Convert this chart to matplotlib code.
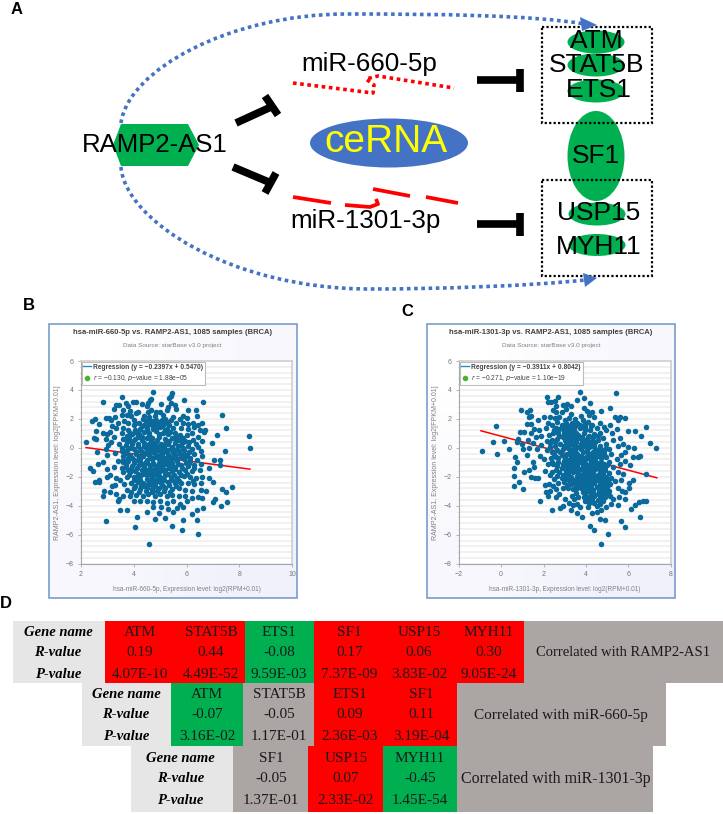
import numpy as np
import matplotlib
matplotlib.use("Agg")
import matplotlib.pyplot as plt
from matplotlib.patches import Ellipse, Polygon, Rectangle, PathPatch
from matplotlib.path import Path
from matplotlib.lines import Line2D

W, H = 723, 814

# panel B scatter (miR-660-5p, RAMP2-AS1)
b_points = [
(2.2,.42),(2.83,3.14),(2.95,-5.04),(4.05,-5.47),(4.6,-6.65),(5.44,-5.4),(5.83,-5.68),(6.43,-5.96),(5.88,-5),(6.38,-4.95),
(8.37,.8),(8.39,0),(7.36,2.3),(7.48,1.37),(7.16,.86),(6.96,.35),(7.44,-.2),(7.04,-.84),(7.28,-.84),(7.28,-1.19),
(6.85,-1.37),(7.72,-2.69),(7.5,-3.03),(7.34,-2.83),(7,-2.34),(6.84,-2.06),(7.52,-3.72),(7.31,-4),(7.08,-3.54),(7.01,-3.77),
(6.61,-4.18),(6.38,-4.3),(6.2,-4.57),(6.62,3.19),(5.9,3.28),(4.72,3.86),(5.45,3.77),(3.57,3.49),
(2.37,-1.37),(2.45,-1.58),(2.55,-2.39),(2.7,-2.23),(2.7,-2.39),(2.89,-2.96),(2.86,-3.33),(3.1,-3.03),(3.49,-4.3),(3.74,-4.3),
(4.14,-4.78),(4.52,-4.42),(4.8,-4.92),(4.97,-4.5),(5.2,-4.83),(5.5,-4.4),(5.88,-4.07),(2.43,1.85),(2.55,1.97),(2.7,1.67),
(2.58,1.18),(2.5,.65),(2.58,.6),(2.96,2.04),(3.08,2.04),(3.26,2.68),(3.33,2.96),(2.6,-.3),(2.65,-1.1),(2.85,-1),(3,-.5),(2.95,-.1),
(2.85,1),(3,.95),(3.1,1.1),(2.95,.6),(3.15,.4),(3.05,.2),(3.25,.75),(3.2,1.5),(3.35,1.35),(3.4,1.75),(3.3,2.1),(3.15,1.95),
(3.0,-1.45),(3.1,-1.85),(2.98,-2),(3.2,-2.6),(3.3,-2.55),(3.35,-2.05),(3.25,-1.3),(3.4,-.9),(3.3,-.35),(3.35,-3.2),(3.45,-3.5),(3.4,-3.7),
(3.98,3.2),(4.1,3.2),(4.3,3.05),(4.55,3.1),(4.62,3.3),(4.66,3.4),(5.05,3),(5.35,3.45),(5.4,3.6),(5.42,3.1),(5.55,2.95),(5.3,2.85),
(4.5,2.9),(3.45,2.95),(3.7,3.1),(3.78,2.9),(3.85,2.55),(3.6,2.6),(3.75,2.3),(3.55,2.25),(3.9,2.2),(4.1,2.4),(4.15,2.5),(4.55,2.5),
(4.65,2.6),(4.85,2.5),(5,2.45),(5.1,2.3),(5.25,2.6),(5.6,2.7),(6.05,2.6),(6.35,2.65),(6.4,2.2),(5.85,2.2),(6,2.05),(5.75,2),(5.5,2.15),
(4.4,2.2),(4.35,2),(4.6,2.1),(4.8,2.2),(5.2,2),(5.4,1.9),(4,1.95),(3.65,1.85),(3.8,1.7),(4,1.55),(4.2,1.7),(4.45,1.75),(4.7,1.85),
(4.95,1.8),(5.15,1.65),(5.35,1.6),(5.6,1.7),(5.85,1.75),(6.05,1.65),(6.25,1.7),(6.45,1.6),(6.6,1.7),(6.3,1.45),(6.05,1.3),(5.8,1.4),
(5.5,1.35),(5.25,1.3),(5,1.45),(4.75,1.5),(4.5,1.4),(4.25,1.3),(4.05,1.2),(3.8,1.25),(3.6,1.4),(3.55,1),(3.75,.85),(3.95,.95),(4.2,.95),
(4.4,1.1),(4.6,1),(4.85,1.15),(5.1,1),(5.3,.95),(5.55,1.05),(5.75,.9),(6,.9),(6.2,1),(6.5,1.25),(6.7,1.25),(6.65,1.1),(6.45,.75),(6.25,.55),
(5.95,.5),(5.7,.55),(5.45,.7),(5.2,.6),(4.95,.75),(4.7,.65),(4.5,.7),(4.3,.55),(4.05,.6),(3.85,.5),(3.6,.6),(3.45,.25),(3.7,.2),(3.95,.25),
(4.15,.3),(4.4,.35),(4.6,.3),(4.85,.4),(5.05,.3),(5.3,.25),(5.55,.35),(5.8,.2),(6.05,.15),(6.35,.3),(6.6,.45),(6.45,.05),(6.2,-.1),(5.9,-.15),
(5.65,-.05),(5.4,-.1),(5.15,-.05),(4.9,.05),(4.7,-.1),(4.45,0),(4.25,-.05),(4,-.1),(3.75,-.15),(3.55,-.2),(3.6,-.55),(3.85,-.5),(4.1,-.45),
(4.35,-.35),(4.55,-.45),(4.8,-.35),(5.05,-.45),(5.3,-.4),(5.55,-.5),(5.75,-.4),(6,-.55),(6.3,-.45),(6.55,-.2),(6.6,-.55),(6.4,-.85),(6.15,-.9),
(5.9,-.8),(5.65,-.9),(5.4,-.8),(5.2,-.85),(4.95,-.75),(4.7,-.8),(4.5,-.85),(4.25,-.75),(4,-.85),(3.8,-.9),(3.6,-1),(3.7,-1.3),(3.95,-1.25),
(4.2,-1.15),(4.4,-1.2),(4.65,-1.15),(4.85,-1.25),(5.1,-1.2),(5.3,-1.15),(5.55,-1.3),(5.8,-1.2),(6.05,-1.25),(6.3,-1.15),(6.55,-1.1),(6.5,-1.5),
(6.2,-1.6),(5.95,-1.55),(5.7,-1.65),(5.45,-1.6),(5.2,-1.5),(5,-1.6),(4.75,-1.55),(4.55,-1.5),(4.3,-1.55),(4.05,-1.6),(3.85,-1.65),(3.6,-1.7),
(3.5,-2.2),(3.75,-2),(4,-2),(4.25,-1.95),(4.5,-1.9),(4.7,-2),(4.95,-1.95),(5.2,-1.9),(5.4,-2),(5.65,-2.05),(5.9,-1.95),(6.15,-2),(6.35,-2.1),(6.6,-2),
(6.55,-2.45),(6.3,-2.5),(6.05,-2.4),(5.8,-2.45),(5.55,-2.4),(5.3,-2.35),(5.05,-2.4),(4.85,-2.35),(4.6,-2.3),(4.35,-2.4),(4.15,-2.35),(3.9,-2.45),(3.65,-2.5),
(3.75,-2.9),(4,-2.8),(4.25,-2.85),(4.5,-2.75),(4.7,-2.85),(4.95,-2.8),(5.2,-2.75),(5.45,-2.85),(5.7,-2.8),(5.95,-2.9),(6.2,-2.95),(6.55,-2.9),(6.75,-2.95),
(6.45,-3.4),(6.2,-3.45),(5.95,-3.3),(5.7,-3.3),(5.45,-3.25),(5.25,-3.3),(5,-3.2),(4.8,-3.3),(4.55,-3.2),(4.35,-3.3),(4.1,-3.25),(3.85,-3.35),(3.6,-3.3),
(4,-3.65),(4.25,-3.7),(4.5,-3.65),(4.75,-3.75),(5,-3.7),(5.25,-3.8),(5.5,-3.7),(5.75,-3.85),(6,-3.7),(6.6,-3.45),(4.75,-4.1),(5.05,-4.1),(5.3,-4.2),(5.65,-4.15),
(4.6,.9),(4.9,.55),(5.15,.15),(4.55,-.15),(4.8,-.6),(5.1,-1),(4.6,-1.75),(5,-2.15),(4.4,-2.6),(5.2,-1.7),(4.3,1.5),(4.85,1.3),(4.65,.45),(5.35,.45),(4.2,-.6),
(4.45,-1),(4.35,-1.8),(5.3,-.65),(5.45,-1.4),(5.6,-2.2),(4.9,-3),(4.7,-2.55),(4.15,-2.1),(4.75,.15),(5,-.2),(5.2,-.25),(5.4,-.6),(4.95,-1.4),(4.8,-1.8),(5.6,.55),
# dense middle of the cloud
(4.12,1.05),(4.33,.78),(4.52,1.22),(4.72,1.28),(4.96,.95),(5.17,1.2),(5.38,1.12),(5.62,.82),(5.85,.68),(4.18,.12),(4.38,.15),(4.57,.08),(4.78,.28),(4.98,.12),(5.23,.42),
(5.44,.08),(5.68,.16),(5.87,-.02),(4.08,-.28),(4.28,-.22),(4.49,-.22),(4.68,-.31),(4.9,-.18),(5.1,-.3),(5.28,-.12),(5.5,-.28),(5.72,-.2),(3.95,-.68),(4.15,-.82),(4.36,-.58),
(4.62,-.62),(4.88,-.55),(5.1,-.62),(5.33,-1),(5.52,-.72),(5.78,-.62),(5.97,-1.02),(4.02,-1.05),(4.28,-1.02),(4.52,-1.05),(4.75,-1.02),(4.95,-1.05),(5.2,-1.05),(5.45,-1.02),
(5.68,-1.12),(3.9,-1.45),(4.12,-1.42),(4.38,-1.42),(4.62,-1.35),(4.85,-1.48),(5.08,-1.4),(5.32,-1.42),(5.58,-1.48),(5.82,-1.42),(3.82,-1.85),(4.15,-1.8),(4.48,-1.7),(4.72,-1.75),
(4.92,-1.78),(5.12,-2.05),(5.3,-1.82),(5.52,-1.85),(5.78,-1.85),(4,-2.25),(4.25,-2.22),(4.5,-2.15),(4.72,-2.2),(4.9,-2.15),(5.15,-2.22),(5.42,-2.2),(5.72,-2.28),(4.05,-2.62),
(4.28,-2.6),(4.55,-2.5),(4.82,-2.62),(5.1,-2.6),(5.32,-2.55),(5.62,-2.62),(4.2,-3.02),(4.45,-3),(4.68,-3.08),(5.15,-3),(5.38,-3.05),(3.92,-3.08),(4.05,1.75),(4.55,1.95),(4.85,1.9),
(5.08,1.95),(5.3,1.82),(4.4,1.55),(4.62,1.62),(4.85,1.62),(5.08,1.48),(3.85,1.05),(4.15,.72),(3.82,.72),(3.98,.45),(3.75,.45),(3.88,-.02),(3.72,-.38),(3.8,-.72),(3.72,-1.08),(3.78,-1.52),
(3.6,-.85),(3.55,-1.42),(3.58,.02),(5.6,-.72),(5.92,-.42),(5.58,-.22),(6.1,-.3),(6.12,-.72),(5.88,.38),(6.1,.4),(6.08,-1.02),(6.28,-1.38),(6,-1.78),(6.25,-2.3),
]

# panel C scatter (miR-1301-3p, RAMP2-AS1)
c_points = [
(-.92,-.22),(-.21,-.43),(-.36,.4),(-.24,1.5),(.12,.5),(.37,-.08),(.66,-.64),(.77,-.96),(.6,-1.42),(.6,-1.95),(.6,-2.66),(.83,-2.39),(1.03,-2.85),
(.94,2.64),(1.2,2.45),(1.35,2.61),(1.4,2.22),(1.33,2.1),(1.22,1.62),(1.4,1.62),(.9,1.12),(1.08,1.07),(.81,.6),(.74,.38),(1.85,-3.65),
(3.72,3.86),(5.4,3.77),(2.18,3.49),(2.67,3.53),(3.9,3.42),(3.6,3.28),(4.2,3.1),(4.72,2.54),(5.14,2.77),(5.37,2.15),(5.85,2.04),(6.85,1.42),
(6,1.16),(6.32,1.14),(7.03,.35),(7.29,-.04),(6.6,.84),(6.27,-.04),(6.24,-.6),(6.47,-.66),(6.55,-.57),(6.1,-1.19),(6.82,-1.81),(6.24,-2.23),
(6.02,-2.46),(6.05,-2.75),(5.85,-3.03),(5.85,-3.56),(6.71,-3.65),(6.82,-3.65),(6.52,-3.72),(6.33,-3.95),(6.11,-4.25),(6.57,-4.8),(5.67,-5.04),
(5.85,-5.45),(5.06,-5.96),(4.73,-6.65),(4.38,-5.68),(4.18,-5.38),(4.67,-4.92),(4.9,-5),(2.39,-4.3),(2.8,-4.18),(3.28,-4.3),(3.57,-4.53),(3.8,-4.78),
(2.94,-4),(2.58,-3.38),(2.1,-3.03),(1.1,-1.7),(1.3,-1.55),(1.4,-2),(1.55,-1.3),(1.6,-2.1),(1.75,-2.1),(1.5,-.95),(1.2,-.5),(1.05,-.1),(1.3,0),
(1,.3),(1.25,.55),(1.5,.35),(1.65,.75),(1.4,1),(1.55,1.3),(1.8,1.2),(1.75,1.95),(2,2.1),(2.2,1.75),(2.1,1.4),(1.9,.85),(1.9,.2),(1.7,-.1),(1.85,-.55),
(2,-.8),(2.05,-1.6),(2.05,-2.55),(2.25,-2.5),(2.3,-2.95),(2.45,-2.6),(2.2,-3.3),(2.75,-3.2),(3,-3.5),(3.2,-3.8),(3.45,-3.55),(3.7,-4.1),(3.95,-3.7),
(4.1,-4.1),(4.3,-4.5),(4.5,-4.45),(4.7,-4.3),(4.95,-4.1),(5.2,-3.9),(5.5,-3.95),(5.55,-3.4),(5.3,-3.5),(5.7,-2.95),(5.5,-2.75),(5.35,-2.3),(5.65,-2.2),(5.75,-1.8),
(5.5,-1.7),(5.3,-1.3),(5.6,-1.1),(5.85,-.9),(5.65,-.5),(5.45,-.75),(5.85,-.3),(6,.05),(5.75,.3),(5.5,.15),(5.3,.55),(5.6,.7),(5.25,1),(5.45,1.3),(5.15,1.6),
(4.85,1.45),(4.65,1.75),(4.95,1.2),(5.5,1.95),(5.6,2.1),(4.4,2.1),(4.05,2.55),(3.9,2.75),(4.15,2.3),(4.3,2.45),(3.75,2.2),(3.5,2),(3.3,2.35),(3.05,2.7),(2.9,2.95),
(2.6,2.9),(2.35,3.2),(2.55,3.25),(2.2,3.2),(3.1,3.05),(3.3,2.9),(2.85,2.45),(2.6,2.5),(2.45,2.6),(2.3,2.15),(2.55,2.05),(2.75,2.15),(3,1.95),(3.2,2.05),(2.65,1.8),
(2.4,1.55),(2.6,1.4),(2.85,1.6),(3.1,1.55),(3.35,1.7),(3.6,1.75),(3.85,1.9),(4.1,1.8),(4.3,1.6),(4.5,1.4),(4.2,1.25),(3.95,1.45),(3.7,1.35),(3.45,1.2),(3.2,1.2),(2.95,1.15),
(2.7,1.05),(2.45,1),(2.25,.9),(2.15,.45),(2.4,.55),(2.65,.6),(2.9,.75),(3.15,.8),(3.4,.75),(3.65,.9),(3.9,1),(4.15,.85),(4.4,.95),(4.65,1),(4.8,.7),(4.55,.55),(4.3,.5),
(4.05,.55),(3.8,.5),(3.55,.4),(3.3,.35),(3.05,.4),(2.8,.25),(2.55,.15),(2.3,.05),(2.15,-.15),(2.4,-.3),(2.65,-.15),(2.9,-.05),(3.15,0),(3.4,-.05),(3.65,.05),(3.9,.1),(4.15,.05),
(4.4,.15),(4.65,.15),(4.95,.3),(5.1,-.05),(4.85,-.2),(4.6,-.25),(4.35,-.3),(4.1,-.35),(3.85,-.3),(3.6,-.4),(3.35,-.45),(3.1,-.4),(2.85,-.5),(2.6,-.6),(2.35,-.7),(2.2,-1.1),(2.45,-1.1),
(2.7,-1),(2.95,-.9),(3.2,-.85),(3.45,-.8),(3.7,-.75),(3.95,-.8),(4.2,-.75),(4.45,-.7),(4.7,-.7),(4.95,-.6),(5.2,-.45),(5.1,-.95),(4.85,-1.1),(4.6,-1.15),(4.35,-1.15),(4.1,-1.2),
(3.85,-1.2),(3.6,-1.25),(3.35,-1.3),(3.1,-1.35),(2.85,-1.4),(2.6,-1.5),(2.4,-1.7),(2.65,-1.95),(2.9,-1.85),(3.15,-1.8),(3.4,-1.7),(3.65,-1.7),(3.9,-1.65),(4.15,-1.6),(4.4,-1.55),
(4.65,-1.6),(4.9,-1.55),(5.1,-1.75),(4.95,-2),(4.7,-2.05),(4.45,-2),(4.2,-2.05),(3.95,-2.1),(3.7,-2.15),(3.45,-2.2),(3.2,-2.25),(2.95,-2.35),(2.7,-2.4),(2.6,-2.85),(2.9,-2.8),(3.15,-2.75),
(3.4,-2.85),(3.65,-2.6),(3.9,-2.55),(4.15,-2.5),(4.4,-2.45),(4.65,-2.5),(4.9,-2.45),(5.15,-2.5),(5.1,-2.95),(4.85,-2.9),(4.6,-2.95),(4.35,-2.9),(4.1,-3),(3.85,-3.05),(3.35,-3.3),(3.65,-3.4),
(3.9,-3.4),(4.15,-3.4),(4.4,-3.35),(4.65,-3.35),(4.9,-3.4),(5.15,-3.35),(4.15,-3.8),(4.4,-3.8),(4.65,-3.85),(4.5,-4),(4.8,-3.7),(3.6,-3.85),(3.4,-3.95),(3.75,-.1),(3.5,-.15),(4,-.6),
(4.25,-.9),(3.3,-1.05),(3.55,-1.5),(3.05,-1.6),(4.3,-1.35),(4.55,-1.85),(4.05,-1.9),(4.75,-2.3),(4.25,-2.25),(3.75,-2.4),(3.5,-2.5),(4.55,-.45),(3.25,.55),(3.55,1),(4,.3),(4.45,.4),(3.7,.65),
(4.2,.3),(3.45,.2),(4.75,-.45),(4.5,-1.4),(3.85,-1.45),(3.6,-1),(5.2,-2.1),(4.8,-3.15),(4.35,-3.15),(3.1,-2.55),(2.75,-1.7),(3.95,1.2),(3.2,1.45),(2.95,1.4),
# dense middle of the cloud
(3.48,1.48),(3.72,1.58),(3.98,1.68),(4.22,1.52),(3.3,1),(3.55,.62),(3.8,.78),(4.08,.72),(4.32,.72),(4.55,.8),(3,.55),(3.2,.2),(3.5,.55),(3.75,.3),(3.98,.55),(4.22,.1),(4.42,-.05),(4.65,-.02),
(2.98,.15),(3.25,-.18),(3.52,-.32),(3.78,-.55),(4.05,-.15),(4.28,-.52),(4.5,-.2),(4.75,-.12),(4.95,.02),(3,-.68),(3.28,-.62),(3.55,-.62),(3.85,-.82),(4.12,-.6),(4.38,-.55),(4.62,-.55),(4.85,-.42),
(3.15,-1.08),(3.42,-1.05),(3.72,-1),(3.98,-1.02),(4.22,-1.02),(4.48,-.95),(4.72,-.95),(4.98,-1.18),(3.25,-1.55),(3.48,-1.48),(3.75,-1.48),(4,-1.42),(4.22,-1.35),(4.45,-1.2),(4.7,-1.38),(4.92,-1.35),
(3.32,-1.98),(3.58,-1.92),(3.82,-1.88),(4.1,-1.78),(4.32,-1.8),(4.62,-1.85),(4.8,-1.8),(3.05,-2.1),(3.3,-2.5),(3.58,-2.32),(3.82,-2.28),(4.02,-2.32),(4.38,-2.25),(4.58,-2.22),(4.88,-2.2),(5.02,-2.3),
(3.55,-2.82),(3.78,-2.8),(4.02,-2.78),(4.25,-2.68),(4.5,-2.7),(4.75,-2.72),(5,-2.7),(3.55,-3.12),(3.98,-3.2),(4.22,-3.15),(4.58,-3.18),(5.02,-3.15),(4.05,-3.6),(4.3,-3.6),(4.55,-3.58),(4.78,-3.55),
(2.9,-1.12),(2.62,-1.25),(2.42,-.98),(2.7,-.72),(2.5,-.42),(2.78,-.28),(2.55,.4),(2.32,.32),(2.72,.85),(2.95,.95),(3.15,1),(3.35,.98),(2.5,1.22),(2.75,1.32),(3.05,1.75),(3.3,1.5),(2.85,-2.1),(2.5,-2.15),(2.3,-1.9),
]

b_line_x = [2.2, 8.4]
b_line_y = [0.02, -1.47]
c_line_x = [-0.95, 7.35]
c_line_y = [1.18, -2.07]

# panel D tables
row_names = ["Gene name", "R-value", "P-value"]
t1_genes = ["ATM", "STAT5B", "ETS1", "SF1", "USP15", "MYH11"]
t1_r = ["0.19", "0.44", "-0.08", "0.17", "0.06", "0.30"]
t1_p = ["4.07E-10", "4.49E-52", "9.59E-03", "7.37E-09", "3.83E-02", "9.05E-24"]
t1_col = ["r", "r", "g", "r", "r", "r"]
t2_genes = ["ATM", "STAT5B", "ETS1", "SF1"]
t2_r = ["-0.07", "-0.05", "0.09", "0.11"]
t2_p = ["3.16E-02", "1.17E-01", "2.36E-03", "3.19E-04"]
t2_col = ["g", "n", "r", "r"]
t3_genes = ["SF1", "USP15", "MYH11"]
t3_r = ["-0.05", "0.07", "-0.45"]
t3_p = ["1.37E-01", "2.33E-02", "1.45E-54"]
t3_col = ["n", "r", "g"]

GREEN = "#00b050"
BLUE = "#4472c4"
GREY = "#aba6a4"
cell_colors = {"r": "#ff0000", "g": GREEN, "n": GREY}
SANS = "Liberation Sans"
SERIF = "Liberation Serif"

fig = plt.figure(figsize=(W / 100, H / 100), dpi=100, facecolor="white")
bg = fig.add_axes([0, 0, 1, 1], zorder=0)
bg.set_axis_off()


def px_box(x0, y0, x1, y1):
    return [x0 / W, 1 - y1 / H, (x1 - x0) / W, (y1 - y0) / H]


def t_bar(x0, y0, x1, y1, bx0, by0, bx1, by1):
    bg.plot([x0, x1], [y0, y1], color="black", lw=5.5, solid_capstyle="butt")
    bg.plot([bx0, bx1], [by0, by1], color="black", lw=5.5, solid_capstyle="butt")


# panel A
for x, y, h in [(596, 42, 23), (596, 65, 23), (596, 91, 23), (596, 156, 90), (597, 214, 23), (597, 245, 22)]:
    bg.add_patch(Ellipse((x, y), 57, h, color=GREEN, lw=0))
for y0, y1 in [(27, 123), (180, 276)]:
    bg.add_patch(Rectangle((542, y0), 110, y1 - y0, fill=False, ec="black", lw=1.6, ls=(0, (1, 1))))
bg.add_patch(Polygon([(113, 145), (121, 124), (188, 124), (199, 145), (188, 166), (121, 166)], color=GREEN, lw=0))
bg.add_patch(Ellipse((389, 143), 158, 49, color=BLUE, lw=0))

top_arc = Path([(121, 123), (128, 70), (230, 14), (347, 14), (440, 14), (530, 15), (585, 24)],
               [Path.MOVETO] + [Path.CURVE4] * 6)
low_arc = Path([(121, 167), (125, 220), (230, 289), (370, 289), (440, 289), (530, 286), (585, 280)],
               [Path.MOVETO] + [Path.CURVE4] * 6)
for arc in (top_arc, low_arc):
    bg.add_patch(PathPatch(arc, fill=False, ec=BLUE, lw=2.6, ls=(0, (1, 1))))
bg.add_patch(Polygon([(597, 25), (580, 17), (582, 31)], color=BLUE, lw=0))
bg.add_patch(Polygon([(597, 278), (583, 273), (585, 287)], color=BLUE, lw=0))

t_bar(236, 123, 271, 107, 265, 96, 278, 115)
t_bar(233, 167, 271, 183, 276, 173, 265, 193)
t_bar(477, 80, 519, 80, 520, 69, 520, 92)
t_bar(477, 224, 519, 224, 520, 213, 520, 236)

bg.plot([293, 373, 374, 366, 378, 454], [83, 93, 85, 79, 76, 88], color="red", lw=2.6, ls=(0, (1, 1)))
for xs, ys in [([293, 331], [197, 203]), ([345, 370, 378, 376], [205, 207, 204, 199]),
               ([373, 410], [189, 196]), ([426, 458], [197, 203])]:
    bg.plot(xs, ys, color="red", lw=2.7, solid_capstyle="butt")

bg.text(155, 145, "RAMP2-AS1", family=SANS, fontsize=18.5, ha="center", va="center")
bg.text(386, 142, "ceRNA", family=SANS, fontsize=28, color="#ffff00", ha="center", va="center")
bg.text(369, 64, "miR-660-5p", family=SANS, fontsize=18.7, ha="center", va="center")
bg.text(366, 221, "miR-1301-3p", family=SANS, fontsize=18.7, ha="center", va="center")
for name, x, y in [("ATM", 597, 41), ("STAT5B", 597, 65), ("ETS1", 599, 90), ("SF1", 596, 156),
                   ("USP15", 599, 213), ("MYH11", 599, 247)]:
    bg.text(x, y, name, family=SANS, fontsize=19, ha="center", va="center")

for letter, x, y in [("A", 17, 10), ("B", 29, 306), ("C", 407, 312), ("D", 6, 604)]:
    bg.text(x, y, letter, family=SANS, fontsize=12, fontweight="bold", ha="center", va="center")

# panels B and C
shade = np.array([[0.0, 0.5], [0.5, 1.0]])
for x0, x1 in [(48.7, 296.7), (426.7, 675)]:
    bg.imshow(shade, extent=(x0, x1, 598, 324), cmap=matplotlib.colors.LinearSegmentedColormap.from_list(
        "panel", ["#ffffff", "#f1f1fc"]), aspect="auto", interpolation="bilinear", zorder=0.5)
    bg.add_patch(Rectangle((x0, 324), x1 - x0, 274, fill=False, ec="#6f94c8", lw=1.1))


def scatter_panel(box, frame_cx, points, line_x, line_y, xlim, xticks, title, xlabel, reg_text, r_text):
    ax = fig.add_axes(px_box(*box), zorder=2)
    pts = np.array(points)
    ax.set_xlim(*xlim)
    ax.set_ylim(-8, 6)
    ax.set_yticks(np.arange(-8, 6.1, 0.4), minor=True)
    ax.set_yticks(np.arange(-8, 7, 2))
    ax.set_xticks(xticks)
    ax.grid(True, axis="y", which="both", color="#eeeeee", lw=1.1)
    ax.set_axisbelow(True)
    ax.plot(line_x, line_y, color="red", lw=1.1, zorder=2)
    ax.scatter(pts[:, 0], pts[:, 1], s=16, color="#0a6a9c", linewidths=0, zorder=3)
    for side in ("top", "right"):
        ax.spines[side].set_color("#cfcfcf")
        ax.spines[side].set_linewidth(1.2)
    for side in ("left", "bottom"):
        ax.spines[side].set_color("#a8a8a8")
        ax.spines[side].set_linewidth(0.8)
    ax.tick_params(labelsize=5, labelcolor="#777777", color="#999999", length=2, width=0.5, pad=3)
    ax.tick_params(which="minor", length=1, width=0.4, color="#999999")
    for lab in ax.get_xticklabels() + ax.get_yticklabels():
        lab.set_family(SANS)
    ax.set_xlabel(xlabel, family=SANS, fontsize=4.7, color="#808080", labelpad=6)
    ax.set_ylabel("RAMP2-AS1, Expression level: log2[FPKM+0.01]", family=SANS, fontsize=5, color="#808080", labelpad=3)
    handles = [Line2D([], [], color="#2b8cc4", lw=1),
               Line2D([], [], ls="", marker="o", ms=3, color="#4db32e")]
    leg = ax.legend(handles, [reg_text, r_text], loc="upper left", frameon=True, fancybox=False,
                    prop={"family": SANS, "size": 4.8}, framealpha=1, edgecolor="#bdbdbd", borderaxespad=0.15,
                    borderpad=0.25, labelspacing=0.35, handlelength=1.2, handletextpad=0.3)
    leg.get_frame().set_linewidth(0.8)
    leg.set_zorder(5)
    for t in leg.get_texts():
        t.set_color("#444444")
    leg.get_texts()[0].set_fontweight("bold")
    bg.text(frame_cx, 332.7, title, family=SANS, fontsize=5.5, fontweight="bold", color="#404040", ha="center", va="center")
    bg.text(frame_cx, 346, "Data Source: starBase v3.0 project", family=SANS, fontsize=4.6, color="#808080", ha="center", va="center")
    return ax


scatter_panel((80.7, 361, 292.3, 563.7), 172.7, b_points, b_line_x, b_line_y, (2, 10), [2, 4, 6, 8, 10],
              "hsa-miR-660-5p vs. RAMP2-AS1, 1085 samples (BRCA)", "hsa-miR-660-5p, Expression level: log2(RPM+0.01)",
              "Regression (y = \u22120.2397x + 0.5470)", "$\\it{r}$ = \u22120.130, $\\it{p}$\u2212value = 1.88e\u221205")
scatter_panel((458.7, 361, 670.7, 563.7), 550.8, c_points, c_line_x, c_line_y, (-2, 8), [-2, 0, 2, 4, 6, 8],
              "hsa-miR-1301-3p vs. RAMP2-AS1, 1085 samples (BRCA)", "hsa-miR-1301-3p, Expression level: log2(RPM+0.01)",
              "Regression (y = \u22120.3911x + 0.8042)", "$\\it{r}$ = \u22120.271, $\\it{p}$\u2212value = 1.10e\u221219")


# panel D
def table(y0, y1, x_label, x_edges, x_end, centers, label_cx, note_cx, genes, rs, ps, cols, note, note_size, rows_y):
    bg.add_patch(Rectangle((x_label, y0), x_edges[0] - x_label, y1 - y0, color="#e7e6e6", lw=0))
    for i, c in enumerate(cols):
        bg.add_patch(Rectangle((x_edges[i], y0), x_edges[i + 1] - x_edges[i], y1 - y0, color=cell_colors[c], lw=0))
    bg.add_patch(Rectangle((x_edges[-1], y0), x_end - x_edges[-1], y1 - y0, color=GREY, lw=0))
    for name, y in zip(row_names, rows_y):
        bg.text(label_cx, y, name, family=SERIF, fontsize=10.5, fontweight="bold", fontstyle="italic", ha="center", va="center")
    for vals, y in zip((genes, rs, ps), rows_y):
        for v, x in zip(vals, centers):
            bg.text(x, y, v, family=SERIF, fontsize=11, color="#1a1a1a", ha="center", va="center")
    bg.text(note_cx, rows_y[1], note, family=SERIF, fontsize=note_size, color="#1a1a1a", ha="center", va="center")


table(620.7, 683, 12.5, [105, 175, 245, 314, 384, 454, 523.6], 723, [140, 211, 279, 349.5, 419, 489], 58, 623,
      t1_genes, t1_r, t1_p, t1_col, "Correlated with RAMP2-AS1", 10.5, [632, 653, 674])
table(683, 746, 82, [171, 243, 314, 386, 457], 666, [207, 279, 349.5, 421], 126, 561,
      t2_genes, t2_r, t2_p, t2_col, "Correlated with miR-660-5p", 11, [695, 715, 736])
table(746, 812, 131, [233, 308, 383, 457], 653, [271, 346, 420], 180.5, 555.6,
      t3_genes, t3_r, t3_p, t3_col, "Correlated with miR-1301-3p", 11.5, [758, 779, 801])

bg.set_xlim(0, W)
bg.set_ylim(H, 0)

fig.savefig("out.png", dpi=100)
